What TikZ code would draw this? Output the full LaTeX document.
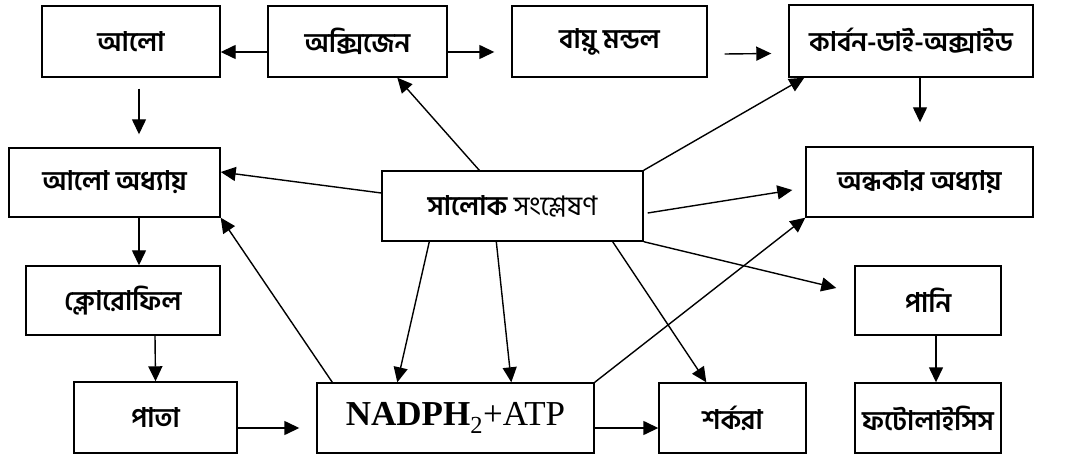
\documentclass[tikz,border=0pt]{standalone}
\usepackage{fontspec}
\setmainfont{Liberation Serif}
\newfontfamily\bn[Script=Bengali]{Hind Siliguri}
\usetikzlibrary{arrows.meta}

\begin{document}
\begin{tikzpicture}[%
 x=1pt,y=-1pt,
 block/.style={
 	rectangle,
 	draw=black,
 	line width=1.4pt,
 	fill=white,
 	align=center,
 	inner sep=0pt,
 	font=\bn\bfseries\fontsize{27}{30}\selectfont
 },
 line/.style={
 	draw,line width=1.4pt,
 	-{Triangle[length=15pt,width=14pt]}
 }
 ]
 \useasboundingbox (0,0) rectangle (1068,454);
 % top row
 \draw (131,41.5) node[block,minimum width=178,minimum height=71] (alo) {আলো};
 \draw (357.5,41.5) node[block,minimum width=179,minimum height=71] (oxy) {অক্সিজেন};
 \draw (609.5,41.5) node[block,minimum width=195,minimum height=71] (baayu) {বায়ু মন্ডল};
 \draw (911,41) node[block,minimum width=244,minimum height=72] (co2) {কার্বন-ডাই-অক্সাইড};
 % middle
 \draw (114.5,182.5) node[block,minimum width=211,minimum height=69] (aloadh) {আলো অধ্যায়};
 \draw (512.5,206) node[block,minimum width=261,minimum height=70] (salok) {সালোক {\mdseries সংশ্লেষণ}};
 \draw (919.5,182) node[block,minimum width=227,minimum height=70] (andh) {অন্ধকার অধ্যায়};
 \path (123,300.5) node[block,minimum width=194,minimum height=69] (chloro) {ক্লোরোফিল}
 (928,300.5) node[block,minimum width=146,minimum height=69] (pani) {পানি};
 % bottom row
 \path (155.5,417.5) node[block,minimum width=163,minimum height=71] (pata) {পাতা}
 (455.5,418) node[block,minimum width=277,minimum height=70,font=\fontsize{35}{38}\selectfont] (nadph) {\textbf{NADPH}\textsubscript{2}+ATP}
 (732.5,418) node[block,minimum width=147,minimum height=70] (sugar) {শর্করা}
 (928,418) node[block,minimum width=146,minimum height=70] (photo) {ফটোলাইসিস};

\draw[line] ([yshift=-10.5pt]oxy.west) -- ([yshift=-10.5pt]alo.east);
\draw[line] ([yshift=-10.5pt]oxy.east) -- ([yshift=-10.5pt,xshift=-17pt]baayu.west);
\draw[line] ([yshift=-12.5pt,xshift=17pt]baayu.east) -- ([yshift=-12.5pt,xshift=-17pt]co2.west);
\draw[line] ([xshift=9pt]co2.south) -- ([xshift=0.5pt,yshift=24pt]andh.north);
\draw[line] ([xshift=8pt,yshift=-11pt]alo.south) -- ([xshift=24.5pt,yshift=13pt]aloadh.north);
\draw[line] ([xshift=24.5pt]aloadh.south) -- ([xshift=16pt]chloro.north);
\draw[line] ([xshift=32pt]chloro.south) -- (pata.north);
\draw[line] ([yshift=-10.5pt]pata.east) -- ([yshift=-10pt,xshift=-17pt]nadph.west);
\draw[line] ([yshift=-10pt]nadph.east) -- ([yshift=-10pt]sugar.west);
\draw[line] ([xshift=8pt]pani.south) -- ([xshift=8pt]photo.north);

% from the centre box
\draw[line] ([xshift=98pt]salok.north west) -- ([xshift=130pt]oxy.south west);
\draw[line] ([yshift=13pt]salok.west) -- ([yshift=10.5pt]aloadh.east);
\draw[line] (salok.north east) -- ([xshift=16pt]co2.south west);
\draw[line] ([xshift=4pt,yshift=-7pt]salok.east) -- ([xshift=-13pt,yshift=-8pt]andh.west);
\draw[line] (salok.south east) -- ([xshift=-18pt,yshift=12.5pt]pani.west);
\draw[line] ([xshift=-31pt]salok.south east) -- ([xshift=48pt]sugar.north west);
\draw[line] ([xshift=48pt]salok.south west) -- ([xshift=81pt]nadph.north west);
\draw[line] ([xshift=115pt]salok.south west) -- ([xshift=195pt]nadph.north west);
\draw[line] ([xshift=16pt]nadph.north west) -- (aloadh.south east);
\draw[line] (nadph.north east) -- (andh.south west);
\end{tikzpicture}
\end{document}
